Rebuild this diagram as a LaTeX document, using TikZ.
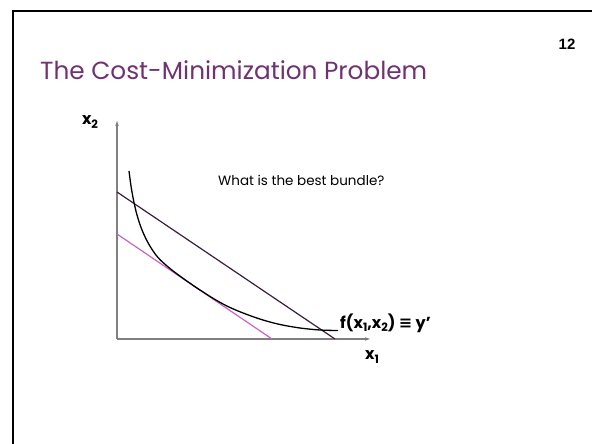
\documentclass[tikz,border=0pt]{standalone}
\usepackage{fontspec}
\setmainfont{Poppins}
\newfontfamily\numfont{Liberation Sans}
\newfontfamily\symfont{DejaVu Sans}
\usetikzlibrary{arrows.meta}
\definecolor{titlepurple}{RGB}{112,50,114}
\definecolor{darkline}{RGB}{58,30,58}
\definecolor{orchidline}{RGB}{200,100,200}
\definecolor{axisgray}{RGB}{128,128,128}
\newcommand\lowsub[1]{\raisebox{-0.4ex}{\fontsize{11.5}{11.5}\selectfont #1}}
\tikzset{
  frameline/.style={line width=2.6pt, black},
  axisline/.style={line width=1.1pt, axisgray, -{Stealth[length=5pt,width=3.5pt]}},
  budgetA/.style={line width=1.2pt, darkline},
  budgetB/.style={line width=1.2pt, orchidline},
  isoquant/.style={line width=1.3pt, black},
  lab/.style={font=\fontsize{16}{16}\selectfont\bfseries, inner sep=0pt},
}
\begin{document}
\begin{tikzpicture}[x=1pt,y=-1pt]
\useasboundingbox (0,0) rectangle (592,444);
\fill[white] (0,0) rectangle (592,444);
% frame (cut by right and bottom edges)
\draw[frameline] (13,460) -- (13,11) -- (610,11);
% title and page number
\node[anchor=base west, inner sep=0pt, text=titlepurple] (title) at (40,80)
  {\resizebox{387pt}{!}{The Cost-Minimization Problem}};
\node[inner sep=0pt, font=\numfont\bfseries\fontsize{15}{15}\selectfont] (pnum) at (567,44) {12};
% axes
\coordinate (O) at (117,339);
\coordinate (ytop) at (117,121);
\coordinate (xend) at (370,339);
\draw[axisline] (O) -- (ytop);
\draw[axisline] (O) -- (xend);
% budget lines
\coordinate (A1) at (117,192);
\coordinate (A2) at (335,339);
\coordinate (B1) at (117,234);
\coordinate (B2) at (272,339);
\draw[budgetA] (A1) -- (A2);
\draw[budgetB] (B1) -- (B2);
% isoquant
\draw[isoquant] plot[smooth, tension=0.55] coordinates {
  (129,171) (131,186) (133.5,200) (137,215) (142,230) (149,244.5) (158,257.5)
  (170,268.5) (184,279) (197,288) (215,299.5) (230,307.5) (247,314.5) (263,320)
  (280,324.5) (300,328) (320,330) (338,330.5)};
% labels
\node[lab] (x2lab) at (90,122) {x\lowsub{2}};
\node[lab] (x1lab) at (372,357) {x\lowsub{1}};
\node[lab, anchor=west] (flab) at (340,323) {f(x\lowsub{1},x\lowsub{2}) {\symfont\bfseries ≡} y’};
\node[anchor=west, inner sep=0pt, font=\fontsize{13.5}{13.5}\selectfont] (question) at (218,180) {What is the best bundle?};
\end{tikzpicture}
\end{document}
